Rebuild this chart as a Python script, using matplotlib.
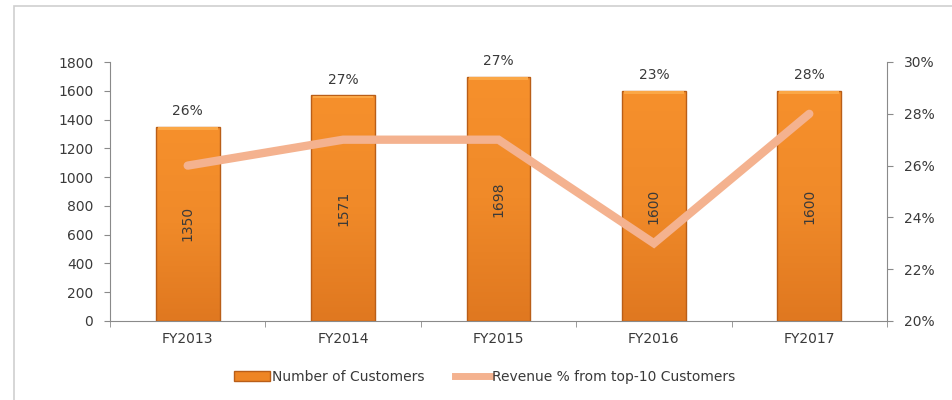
import numpy as np
import matplotlib.pyplot as plt
from matplotlib.patches import Rectangle
from matplotlib.lines import Line2D
from matplotlib.ticker import FixedLocator
from matplotlib.colors import LinearSegmentedColormap

years = ["FY2013", "FY2014", "FY2015", "FY2016", "FY2017"]
customers = [1350, 1571, 1698, 1600, 1600]
revenue_pct = [26, 27, 27, 23, 28]

plt.rcParams['font.family'] = ['DejaVu Sans']
text_col = '#3a3a3a'
axis_col = '#8a8a8a'
bar_col = '#EE8524'
bar_edge = '#B95E18'
line_col = '#F4B28F'
fs = 10

fig = plt.figure(figsize=(9.52, 4.0), dpi=100)
fig.patches.append(Rectangle((14 / 952, -0.01), 1.0, 1 - 6 / 400 + 0.01, transform=fig.transFigure,
                             fill=False, edgecolor='#cfcfcf', linewidth=1.2))

ax = fig.add_axes([110 / 952, 1 - 321 / 400, (887 - 110) / 952, (321 - 62) / 400])
x = np.arange(len(years))
bars = ax.bar(x, customers, width=0.41, color='none', edgecolor=bar_edge, linewidth=1.0, zorder=3)

# vertical gradient fill clipped to each bar, with a lighter bevel on top
grad = LinearSegmentedColormap.from_list('bar', ['#E07820', '#F08A29', '#F6902C'])
for b in bars:
    x0, w, h = b.get_x(), b.get_width(), b.get_height()
    img = ax.imshow(np.linspace(0, 1, 100).reshape(-1, 1), cmap=grad, origin='lower', aspect='auto',
                    extent=(x0, x0 + w, 0, h), zorder=2)
    img.set_clip_path(b)
    ax.add_patch(Rectangle((x0 + 0.012, h - 20), w - 0.024, 15,
                           facecolor='#FBA746', edgecolor='none', zorder=3))

ax.set_xlim(-0.5, len(years) - 0.5)
ax.set_ylim(0, 1800)
ax.set_yticks(range(0, 1801, 200))
ax.set_xticks(x)
ax.set_xticklabels(years)
ax.xaxis.set_minor_locator(FixedLocator(np.arange(-0.5, len(years), 1.0)))
ax.tick_params(axis='x', which='major', length=0, pad=8, labelsize=fs, labelcolor=text_col)
ax.tick_params(axis='x', which='minor', length=4, color=axis_col, direction='out')
ax.tick_params(axis='y', length=4, color=axis_col, direction='out', pad=8, labelsize=fs, labelcolor=text_col)
for s in ['top', 'right']:
    ax.spines[s].set_visible(False)
for s in ['left', 'bottom']:
    ax.spines[s].set_color(axis_col)

for xi, v, p in zip(x, customers, revenue_pct):
    ax.text(xi, v / 2, str(v), rotation=90, ha='center', va='center', fontsize=fs, color=text_col, zorder=5)
    ax.annotate(f"{p}%", (xi, v), xytext=(0, 6), textcoords='offset points',
                ha='center', va='bottom', fontsize=fs, color=text_col, zorder=5)

ax2 = ax.twinx()
ax2.plot(x, revenue_pct, color=line_col, linewidth=6, solid_capstyle='round', solid_joinstyle='miter', zorder=4)
ax2.set_ylim(20, 30)
ax2.set_yticks(range(20, 31, 2))
ax2.set_yticklabels([f"{t}%" for t in range(20, 31, 2)])
ax2.tick_params(axis='y', length=4, color=axis_col, direction='out', pad=8, labelsize=fs, labelcolor=text_col)
for s in ['top', 'left', 'bottom']:
    ax2.spines[s].set_visible(False)
ax2.spines['right'].set_color(axis_col)

handles = [Rectangle((0, 0), 1, 1, facecolor=bar_col, edgecolor=bar_edge),
           Line2D([0], [0], color=line_col, linewidth=5)]
fig.legend(handles, ["Number of Customers", "Revenue % from top-10 Customers"],
           loc='center', bbox_to_anchor=(485 / 952, 1 - 377 / 400), ncol=2, frameon=False,
           fontsize=fs, handlelength=2.6, handletextpad=0.1, columnspacing=2.2, labelcolor=text_col)

fig.savefig("out.png", dpi=100)
